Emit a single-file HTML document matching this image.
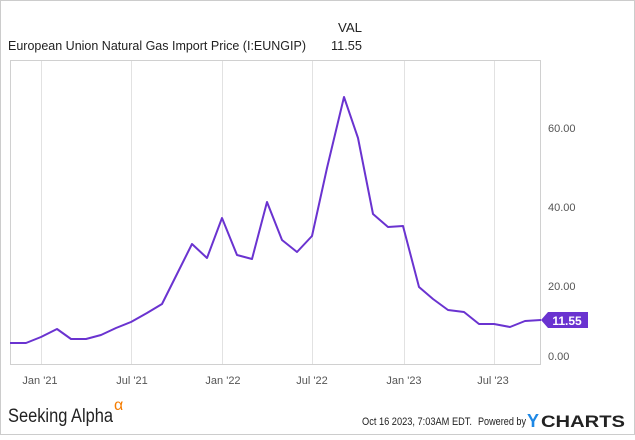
<!DOCTYPE html>
<html><head><style>
body{margin:0;background:#fff;}
svg text{font-family:"Liberation Sans",sans-serif;}
</style></head><body>
<svg width="635" height="435" viewBox="0 0 635 435" xmlns="http://www.w3.org/2000/svg">
<rect x="0.5" y="0.5" width="634" height="434" fill="#fff" stroke="#ccc"/>
<text x="362" y="32" font-size="13" fill="#222" text-anchor="end" textLength="24" lengthAdjust="spacingAndGlyphs">VAL</text>
<text x="8" y="50" font-size="13" fill="#222" textLength="298" lengthAdjust="spacingAndGlyphs">European Union Natural Gas Import Price (I:EUNGIP)</text>
<text x="362" y="50" font-size="13" fill="#222" text-anchor="end" textLength="31" lengthAdjust="spacingAndGlyphs">11.55</text>
<g stroke="#e2e2e2" stroke-width="1">
<line x1="41.5" y1="61" x2="41.5" y2="364"/><line x1="131.5" y1="61" x2="131.5" y2="364"/>
<line x1="222.5" y1="61" x2="222.5" y2="364"/><line x1="312.5" y1="61" x2="312.5" y2="364"/>
<line x1="404.5" y1="61" x2="404.5" y2="364"/><line x1="494.5" y1="61" x2="494.5" y2="364"/>
</g>
<rect x="10.5" y="60.5" width="530" height="304" fill="none" stroke="#d0d0d0"/>
<g font-size="11" fill="#555">
<text x="548" y="132">60.00</text><text x="548" y="211">40.00</text><text x="548" y="290">20.00</text><text x="548" y="360">0.00</text>
</g>
<g font-size="11" fill="#555" text-anchor="middle">
<text x="40" y="384">Jan '21</text><text x="132" y="384">Jul '21</text><text x="223" y="384">Jan '22</text><text x="312" y="384">Jul '22</text><text x="404" y="384">Jan '23</text><text x="493" y="384">Jul '23</text>
</g>
<polyline fill="none" stroke="#6a33d0" stroke-width="2" stroke-linejoin="round" points="10,343 26,343 41,337 57,329 71,339 86,339 101,335 116,328 131,322 147,313 162,304 177,274 192,244 207,258 222,218 237,255 252,259 267,202 282,240 297,252 312,236 327,168 344,97 358,138 373,214 388,227 403,226 419,287 433,299 448,310 464,312 479,324 494,324 510,327 525,321 541,320"/>
<path d="M541,320 L548,312 L588,312 L588,328 L548,328 Z" fill="#6a33d0"/>
<text x="567" y="325" font-size="12" font-weight="bold" fill="#fff" text-anchor="middle">11.55</text>
<text x="8" y="422" font-size="19" fill="#222" textLength="105" lengthAdjust="spacingAndGlyphs">Seeking Alpha</text>
<text x="114" y="410" font-size="16" fill="#f57c00">α</text>
<text x="362" y="425" font-size="11" fill="#222" textLength="110" lengthAdjust="spacingAndGlyphs">Oct 16 2023, 7:03AM EDT.</text>
<text x="478" y="425" font-size="11" fill="#222" textLength="48" lengthAdjust="spacingAndGlyphs">Powered by</text>
<text x="527" y="427" font-size="18" font-weight="bold" fill="#1e88e5">Y</text>
<text x="541" y="427" font-size="17" font-weight="bold" fill="#222" textLength="84" lengthAdjust="spacingAndGlyphs">CHARTS</text>
</svg>
</body></html>
